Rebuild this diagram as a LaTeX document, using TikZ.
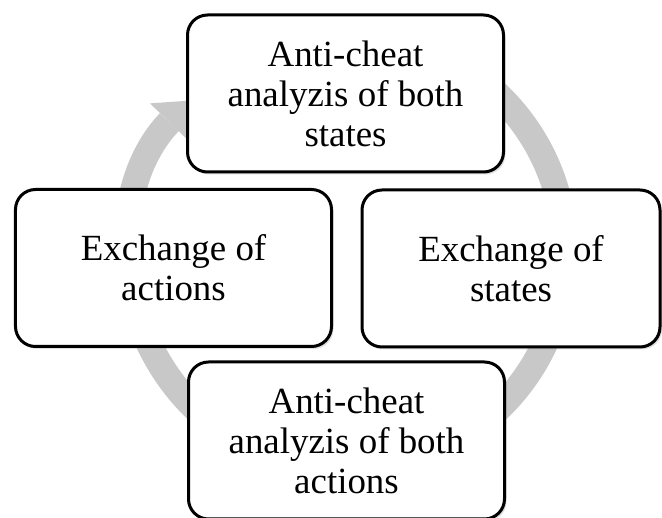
\documentclass[tikz,border=0pt]{standalone}
\usepackage{fontspec}
\setmainfont{Liberation Serif}
\usetikzlibrary{arrows.meta,shadows}
\definecolor{ringgray}{RGB}{200,200,200}

\begin{document}
\begin{tikzpicture}[
  box/.style={draw, line width=0.06cm, rounded corners=0.4cm, fill=white,
    minimum width=6.32cm, minimum height=3.14cm, align=center,
    font=\fontsize{21}{22.8}\selectfont,
    drop shadow={opacity=0.25, shadow xshift=0.04cm, shadow yshift=-0.05cm}},
  ring/.style={line width=0.52cm, draw=ringgray}
]
\clip (0,0) rectangle (13.24,10.36);

\coordinate (hub) at (6.94,5.32);
\draw [ring, -{Triangle[width=1.08cm, length=0.6cm, line width=0pt]}] (hub) ++(130:4.36) arc [start angle=130, end angle=-224, radius=4.36];

\node [box] (antiStates) at (6.91,8.49) {Anti-cheat\\analyzis of both\\states};
\node [box] (exchActions) at (3.47,5.00) {Exchange of\\actions};
\node [box, minimum width=5.96cm] (exchStates) at (10.22,4.99) {Exchange of\\states};
\node [box] (antiActions) at (6.93,1.55) {Anti-cheat\\analyzis of both\\actions};

\end{tikzpicture}
\end{document}
